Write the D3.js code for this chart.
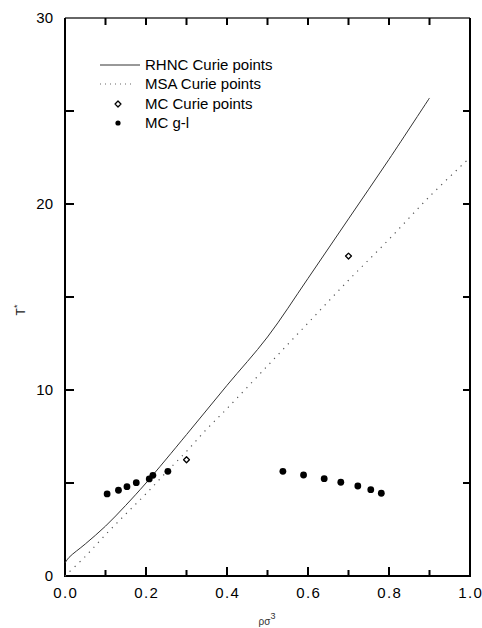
<!DOCTYPE html>
<html><head><meta charset="utf-8">
<script src="https://cdn.jsdelivr.net/npm/d3@7"></script>
<style>body{margin:0;background:#fff}svg{display:block}text{font-family:"Liberation Sans",Arial,sans-serif}</style>
</head><body>
<script>
const rhncX = [0, 0.01, 0.05, 0.1, 0.15, 0.2, 0.3, 0.4, 0.5, 0.6, 0.7, 0.8, 0.9];
const rhncY = [0.7, 1.0, 1.72, 2.68, 3.8, 5.0, 7.6, 10.25, 12.85, 16.0, 19.2, 22.4, 25.7];
const msaX = [0, 0.05, 0.1, 0.15, 0.2, 0.25, 0.3, 0.35, 0.4, 0.5, 0.6, 0.7, 0.8, 0.9, 1.0];
const msaY = [0.0, 1.05, 2.22, 3.33, 4.42, 5.58, 6.7, 7.9, 9.0, 11.3, 13.6, 15.9, 18.1, 20.4, 22.5];
const mcCurieX = [0.3, 0.7];
const mcCurieY = [6.25, 17.2];
const mcGlX = [0.104, 0.132, 0.153, 0.176, 0.208, 0.217, 0.254, 0.538, 0.589, 0.64, 0.681, 0.723, 0.755, 0.781];
const mcGlY = [4.41, 4.61, 4.80, 5.02, 5.22, 5.41, 5.63, 5.63, 5.43, 5.23, 5.04, 4.84, 4.64, 4.45];
const xTicks = [0, 0.2, 0.4, 0.6, 0.8, 1.0];
const xMinorTicks = [0.1, 0.3, 0.5, 0.7, 0.9];
const yTicks = [0, 10, 20, 30];
const yAllTicks = [5, 10, 15, 20, 25];
const legendLabels = ["RHNC Curie points", "MSA Curie points", "MC Curie points", "MC g-l"];

const W = 482, H = 628;
const L = 65, R = 470, T = 18, B = 576;
const svg = d3.select("body").append("svg").attr("width", W).attr("height", H);
const x = d3.scaleLinear().domain([0, 1]).range([L, R]);
const y = d3.scaleLinear().domain([0, 30]).range([B, T]);

// frame: heavy left/bottom/right, lighter top
const fp = d3.path();
fp.moveTo(L, T); fp.lineTo(L, B); fp.lineTo(R, B); fp.lineTo(R, T);
svg.append("path").attr("d", fp.toString()).attr("fill", "none")
  .attr("stroke", "#000").attr("stroke-width", 2).attr("stroke-linejoin", "miter");
svg.append("line").attr("x1", L).attr("x2", R).attr("y1", T).attr("y2", T)
  .attr("stroke", "#333").attr("stroke-width", 1.3);

// inward ticks (drawn as one path)
const tickPath = d3.path();
xTicks.forEach(d => { tickPath.moveTo(x(d), B); tickPath.lineTo(x(d), B - 9); });
xMinorTicks.forEach(d => { tickPath.moveTo(x(d), B); tickPath.lineTo(x(d), B - 6); });
xTicks.concat(xMinorTicks).forEach(d => { tickPath.moveTo(x(d), T); tickPath.lineTo(x(d), T + 7); });
yAllTicks.forEach(d => { tickPath.moveTo(L, y(d)); tickPath.lineTo(L + 9, y(d)); });
yAllTicks.forEach(d => { tickPath.moveTo(R, y(d)); tickPath.lineTo(R - 7, y(d)); });
svg.append("path").attr("d", tickPath.toString()).attr("fill", "none")
  .attr("stroke", "#000").attr("stroke-width", 2);

// tick labels
svg.append("g").selectAll("text").data(xTicks).join("text")
  .attr("x", d => x(d) + 0.7).attr("y", 598).attr("text-anchor", "middle")
  .attr("font-size", 15).attr("letter-spacing", 1.4).text(d => d.toFixed(1));
svg.append("g").selectAll("text").data(yTicks).join("text")
  .attr("x", 53).attr("y", d => y(d) + 5).attr("text-anchor", "end")
  .attr("font-size", 15).text(d => d);

// axis titles
const xl = svg.append("text").attr("x", 267).attr("y", 625).attr("text-anchor", "middle")
  .attr("font-family", "'DejaVu Serif',serif").attr("font-size", 10).attr("fill", "#333");
xl.append("tspan").text("ρσ");
xl.append("tspan").attr("dy", -6).attr("font-size", 9).text("3");
const yl = svg.append("text").attr("transform", "translate(25,310) rotate(-90)").attr("text-anchor", "middle")
  .attr("font-size", 12).attr("fill", "#222");
yl.append("tspan").text("T");
yl.append("tspan").attr("dy", -5).attr("font-size", 9).text("*");

// curves
const line = d3.line().x(d => x(d[0])).y(d => y(d[1])).curve(d3.curveCatmullRom.alpha(0.5));
svg.append("path").datum(rhncX.map((v, i) => [v, rhncY[i]]))
  .attr("d", line).attr("fill", "none").attr("stroke", "#333").attr("stroke-width", 1);
svg.append("path").datum(msaX.map((v, i) => [v, msaY[i]]))
  .attr("d", line).attr("fill", "none").attr("stroke", "#555").attr("stroke-width", 1.2)
  .attr("stroke-dasharray", "1.2,5.5");

// points
svg.append("g").selectAll("circle").data(mcGlX.map((v, i) => [v, mcGlY[i]])).join("circle")
  .attr("cx", d => x(d[0])).attr("cy", d => y(d[1])).attr("r", 3.4).attr("fill", "#000");
const diamond = d3.symbol().type(d3.symbolDiamond2).size(22);
svg.append("g").selectAll("path").data(mcCurieX.map((v, i) => [v, mcCurieY[i]])).join("path")
  .attr("transform", d => `translate(${x(d[0])},${y(d[1])})`).attr("d", diamond)
  .attr("fill", "#fff").attr("stroke", "#000").attr("stroke-width", 1.3).attr("stroke-linejoin", "round");

// legend
const ly = [65, 84, 104, 123];
const lg = svg.append("g");
lg.append("line").attr("x1", 100).attr("x2", 140).attr("y1", ly[0]).attr("y2", ly[0]).attr("stroke", "#333").attr("stroke-width", 1);
lg.append("line").attr("x1", 100).attr("x2", 134).attr("y1", ly[1]).attr("y2", ly[1]).attr("stroke", "#666").attr("stroke-width", 1)
  .attr("stroke-dasharray", "1,4");
lg.append("path").attr("transform", `translate(118,${ly[2]})`).attr("d", diamond)
  .attr("fill", "#fff").attr("stroke", "#000").attr("stroke-width", 1.3).attr("stroke-linejoin", "round");
lg.append("circle").attr("cx", 118).attr("cy", ly[3]).attr("r", 2.6).attr("fill", "#000");
lg.selectAll("text").data(legendLabels).join("text")
  .attr("x", 145).attr("y", (d, i) => ly[i] + 5).attr("font-size", 15).text(d => d);
</script>
</body></html>
